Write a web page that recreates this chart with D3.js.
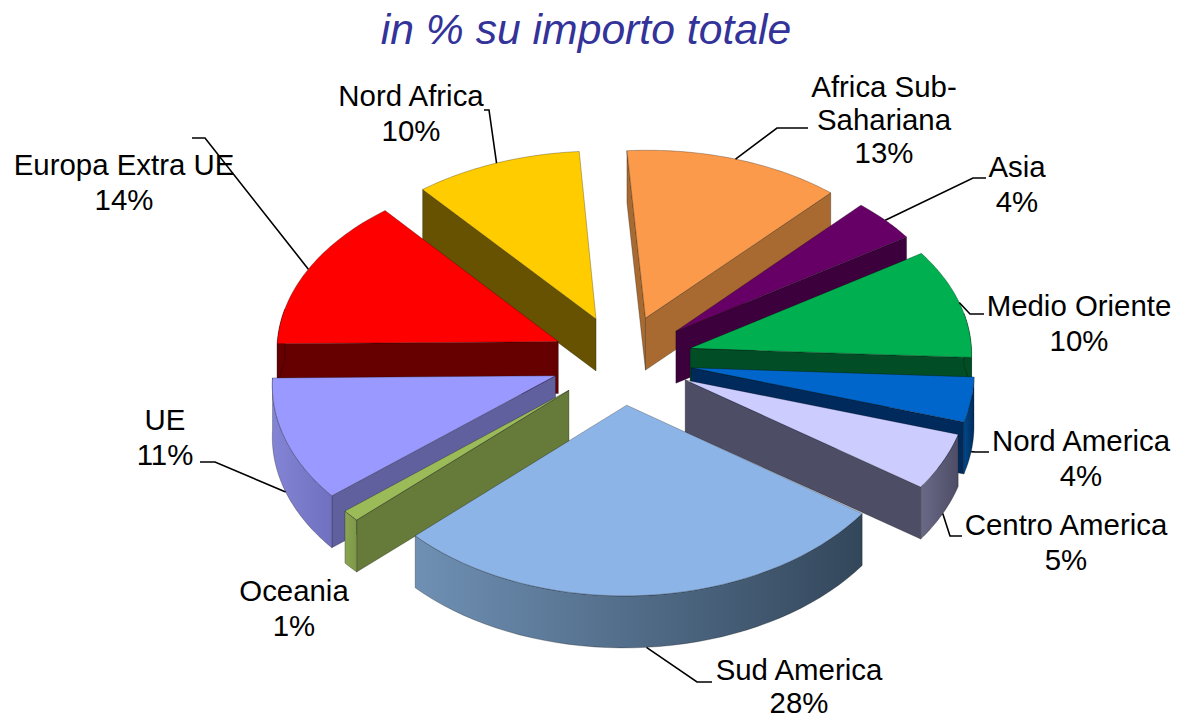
<!DOCTYPE html>
<html><head><meta charset="utf-8">
<script src="https://cdn.jsdelivr.net/npm/d3@7/dist/d3.min.js"></script>
<style>html,body{margin:0;background:#fff}svg{display:block}text{font-family:"Liberation Sans",Arial,sans-serif}</style>
</head><body><div id="c"></div>
<script>
const categories=["Africa Sub-Sahariana","Asia","Medio Oriente","Nord America","Centro America","Sud America","Oceania","UE","Europa Extra UE","Nord Africa"];
const values=[13,4,10,4,5,28,1,11,14,10];
const labelLines=[["Africa Sub-","Sahariana"],["Asia"],["Medio Oriente"],["Nord America"],["Centro America"],["Sud America"],["Oceania"],["UE"],["Europa Extra UE"],["Nord Africa"]];
const topColors=["#fb9a4a","#660066","#00b050","#0066cc","#ccccff","#8db4e6","#9bbb59","#9999ff","#ff0000","#ffcc00"];
const wallColors=["#a86a30","#3c003c","#004d26","#002a5c","#4d4d66","#364a5e","#667a3a","#60609f","#660000","#665200"];
const rimFrom=["#a86a30","#3c003c","#004d26","#004a8c","#6a6a88","#6f90b4","#8aa650","#8484d6","#660000","#665200"];
const rimTo=["#a86a30","#3c003c","#004d26","#002a5c","#4d4d66","#33475b","#7d9748","#7070c0","#660000","#665200"];
// label layout: centre x, first baseline, line step
const labelPos=[[884,97,33],[1017,177,34.5],[1079,316,34.5],[1081,451,34.5],[1066,535,34.5],[799,680,33],[294,601,34.5],[165,430,34.5],[124,175,34.5],[411,106,34.5]];
// leader layout: start and elbow (null = no leader)
const leaderPos=[[[808,128],[777,128]],[[986,178],[973,178]],[[984,314],[970,314]],[[989,452],[975,452]],[[962,536],[950,536]],[[712,682],[697,682]],null,[[200,462],[215,462]],[[192,138],[205,138]],[[484,110],[489,110]]];

const W=1177,H=719;
const cx=622,cy=360,Rx=282,Ry=179.2,perspX=0.035,perspY=0.043,shear=2.5,explode=0.25,depth=52,rot=-4.3*Math.PI/180;
const svg=d3.select("#c").append("svg").attr("width",W).attr("height",H);
const defs=svg.append("defs");
const project=(X,Y,z=0)=>[cx+Rx*X*(1-perspX*Y)+shear*Y,cy-Ry*Y*(1-perspY*Y)+z];
const line=d3.line();
const pie=d3.pie().sort(null).startAngle(rot).endAngle(rot+2*Math.PI);
const arcs=pie(values).map((a,i)=>{
  const mid=(a.startAngle+a.endAngle)/2;
  return {...a,i,mid,ax:explode*Math.sin(mid),ay:explode*Math.cos(mid)};
});
const pt=(a,t,z=0)=>project(a.ax+Math.sin(t),a.ay+Math.cos(t),z);
const apex=(a,z=0)=>project(a.ax,a.ay,z);
const area=p=>d3.polygonArea(p);
const edgeStroke="rgba(0,0,0,0.45)";
const order=arcs.slice().sort((p,q)=>Math.cos(q.mid)-Math.cos(p.mid));
const gSl=svg.append("g");
order.forEach(a=>{
  const g=gSl.append("g");
  const ts=d3.range(0,41).map(k=>a.startAngle+(a.endAngle-a.startAngle)*k/40);
  defs.append("linearGradient").attr("id","rim"+a.i).selectAll("stop").data([rimFrom[a.i],rimTo[a.i]]).join("stop")
    .attr("offset",(d,k)=>k).attr("stop-color",d=>d);
  const face=(poly,fill)=>g.append("path").attr("d",line(poly)+"Z").attr("fill",fill).attr("stroke",edgeStroke).attr("stroke-width",0.6);
  [a.startAngle,a.endAngle].forEach(t=>{
    const q=[apex(a),pt(a,t),pt(a,t,depth),apex(a,depth)];
    const dirSign=t===a.startAngle?1:-1;
    if(area(q)*dirSign>0) face(q,wallColors[a.i]);
  });
  const vis=ts.filter(t=>Math.cos(t)<0.2);
  if(vis.length>1){
    const rim=vis.map(t=>pt(a,t)).concat(vis.slice().reverse().map(t=>pt(a,t,depth)));
    g.append("path").attr("d",line(rim)+"Z").attr("fill",`url(#rim${a.i})`).attr("stroke",edgeStroke).attr("stroke-width",0.6);
  }
  face([apex(a),...ts.map(t=>pt(a,t))],topColors[a.i]);
});
arcs.forEach(a=>{
  const lp=leaderPos[a.i]; if(!lp) return;
  const end=pt(a,a.mid,Math.cos(a.mid)<0?depth:0);
  svg.append("path").attr("d",line([lp[0],lp[1],end])).attr("fill","none").attr("stroke","#000").attr("stroke-width",1.6);
});
arcs.forEach(a=>{
  const t=svg.append("text").attr("text-anchor","middle").attr("font-size",29.4).attr("fill","#000");
  const lines=[...labelLines[a.i],values[a.i]+"%"];
  lines.forEach((s,k)=>t.append("tspan").attr("x",labelPos[a.i][0]).attr("y",labelPos[a.i][1]+k*labelPos[a.i][2]).text(s));
});
svg.append("text").attr("x",586).attr("y",44).attr("text-anchor","middle").attr("font-size",42.7).attr("font-style","italic").attr("fill","#333399").text("in % su importo totale");
</script></body></html>
